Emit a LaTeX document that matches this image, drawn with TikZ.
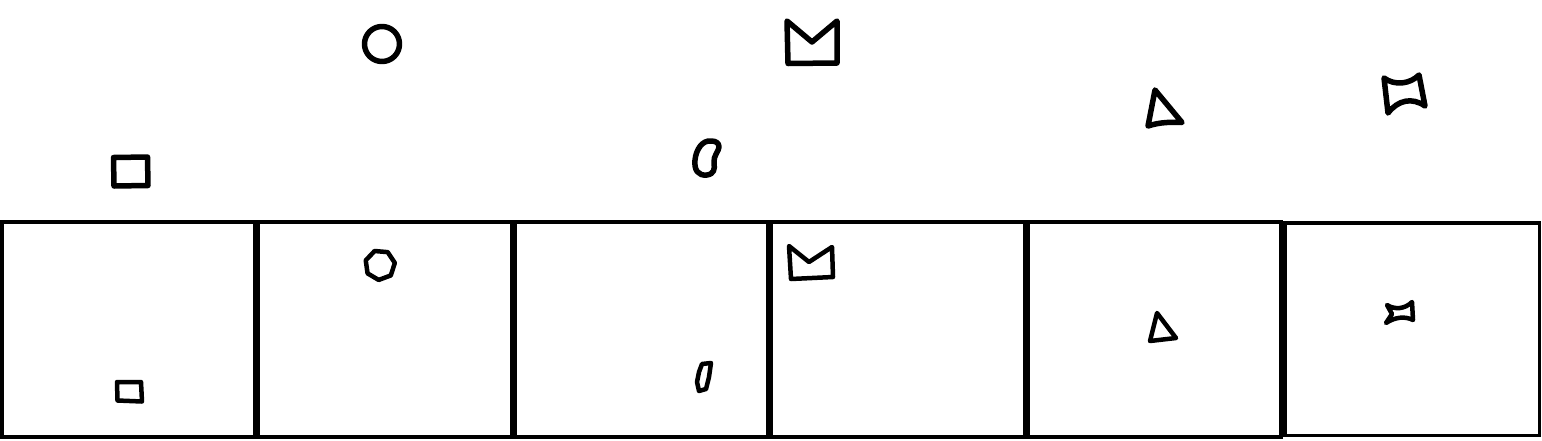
\documentclass[tikz,border=0pt]{standalone}
\usetikzlibrary{calc}

\begin{document}
\begin{tikzpicture}[
    x=1pt, y=-1pt,
    panel/.style={draw, line width=3.5pt},
    big/.style={draw, line width=5.5pt, line join=round},
    small/.style={draw, line width=4.5pt, line join=round}
]
\useasboundingbox (0,0) rectangle (1542,440);

% top row
\draw[big] (113.5,157.5) -- (147.5,157) -- (148,185.5) -- (114,186) -- cycle;
\draw[big] (382,44) circle (17.5);
\draw[big] (711,141) .. controls (702,140) and (696,150) .. (695,160)
    .. controls (694,170) and (698,176) .. (707,175)
    .. controls (714,174) and (715,169) .. (714,163)
    .. controls (713,156) and (719,151) .. (719,147)
    .. controls (719,143) and (716,141) .. (711,141) -- cycle;
\draw[big] (787,21) -- (812,42) -- (837,21) -- (837,63) -- (788,63.5) -- cycle;
\draw[big] (1155,90) -- (1148,126) .. controls (1160,122) and (1172,122) .. (1182,122.5) -- cycle;
\draw[big] (1384,78) .. controls (1395,86) and (1410,84) .. (1419,75)
    -- (1425,106) .. controls (1412,97) and (1398,100) .. (1388,113) -- cycle;

% bottom row of panels
\foreach \i in {0,...,4}
    \draw[panel] ({1.75+256.5*\i},222) rectangle ({255+256.5*\i},437);
\draw[panel] (1285,223) rectangle (1539.5,435.5);

% bottom shapes
\draw[small] (117,382) -- (141,382) -- (142,401.5) -- (117.5,400.5) -- cycle;
\draw[small] (380,265) +(95:15) -- +(146:15) -- +(198:15) -- +(249:15)
    -- +(301:15) -- +(352:15) -- +(44:15) -- cycle;
\draw[small] (702,364) -- (711,363) -- (709,377) -- (706,389) -- (699,391) -- (697,382)
    -- (699,372) -- cycle;
\draw[small] (789,246) -- (809,262) -- (832,247) -- (833,277) -- (791,279) -- cycle;
\draw[small] (1157,313) -- (1150,341) -- (1176,338) -- cycle;
\draw[small] (1387,305) .. controls (1395,310) and (1405,309) .. (1412,302)
    -- (1413,320) .. controls (1405,316) and (1395,317) .. (1386,323)
    -- (1392,314) -- cycle;
\end{tikzpicture}
\end{document}
